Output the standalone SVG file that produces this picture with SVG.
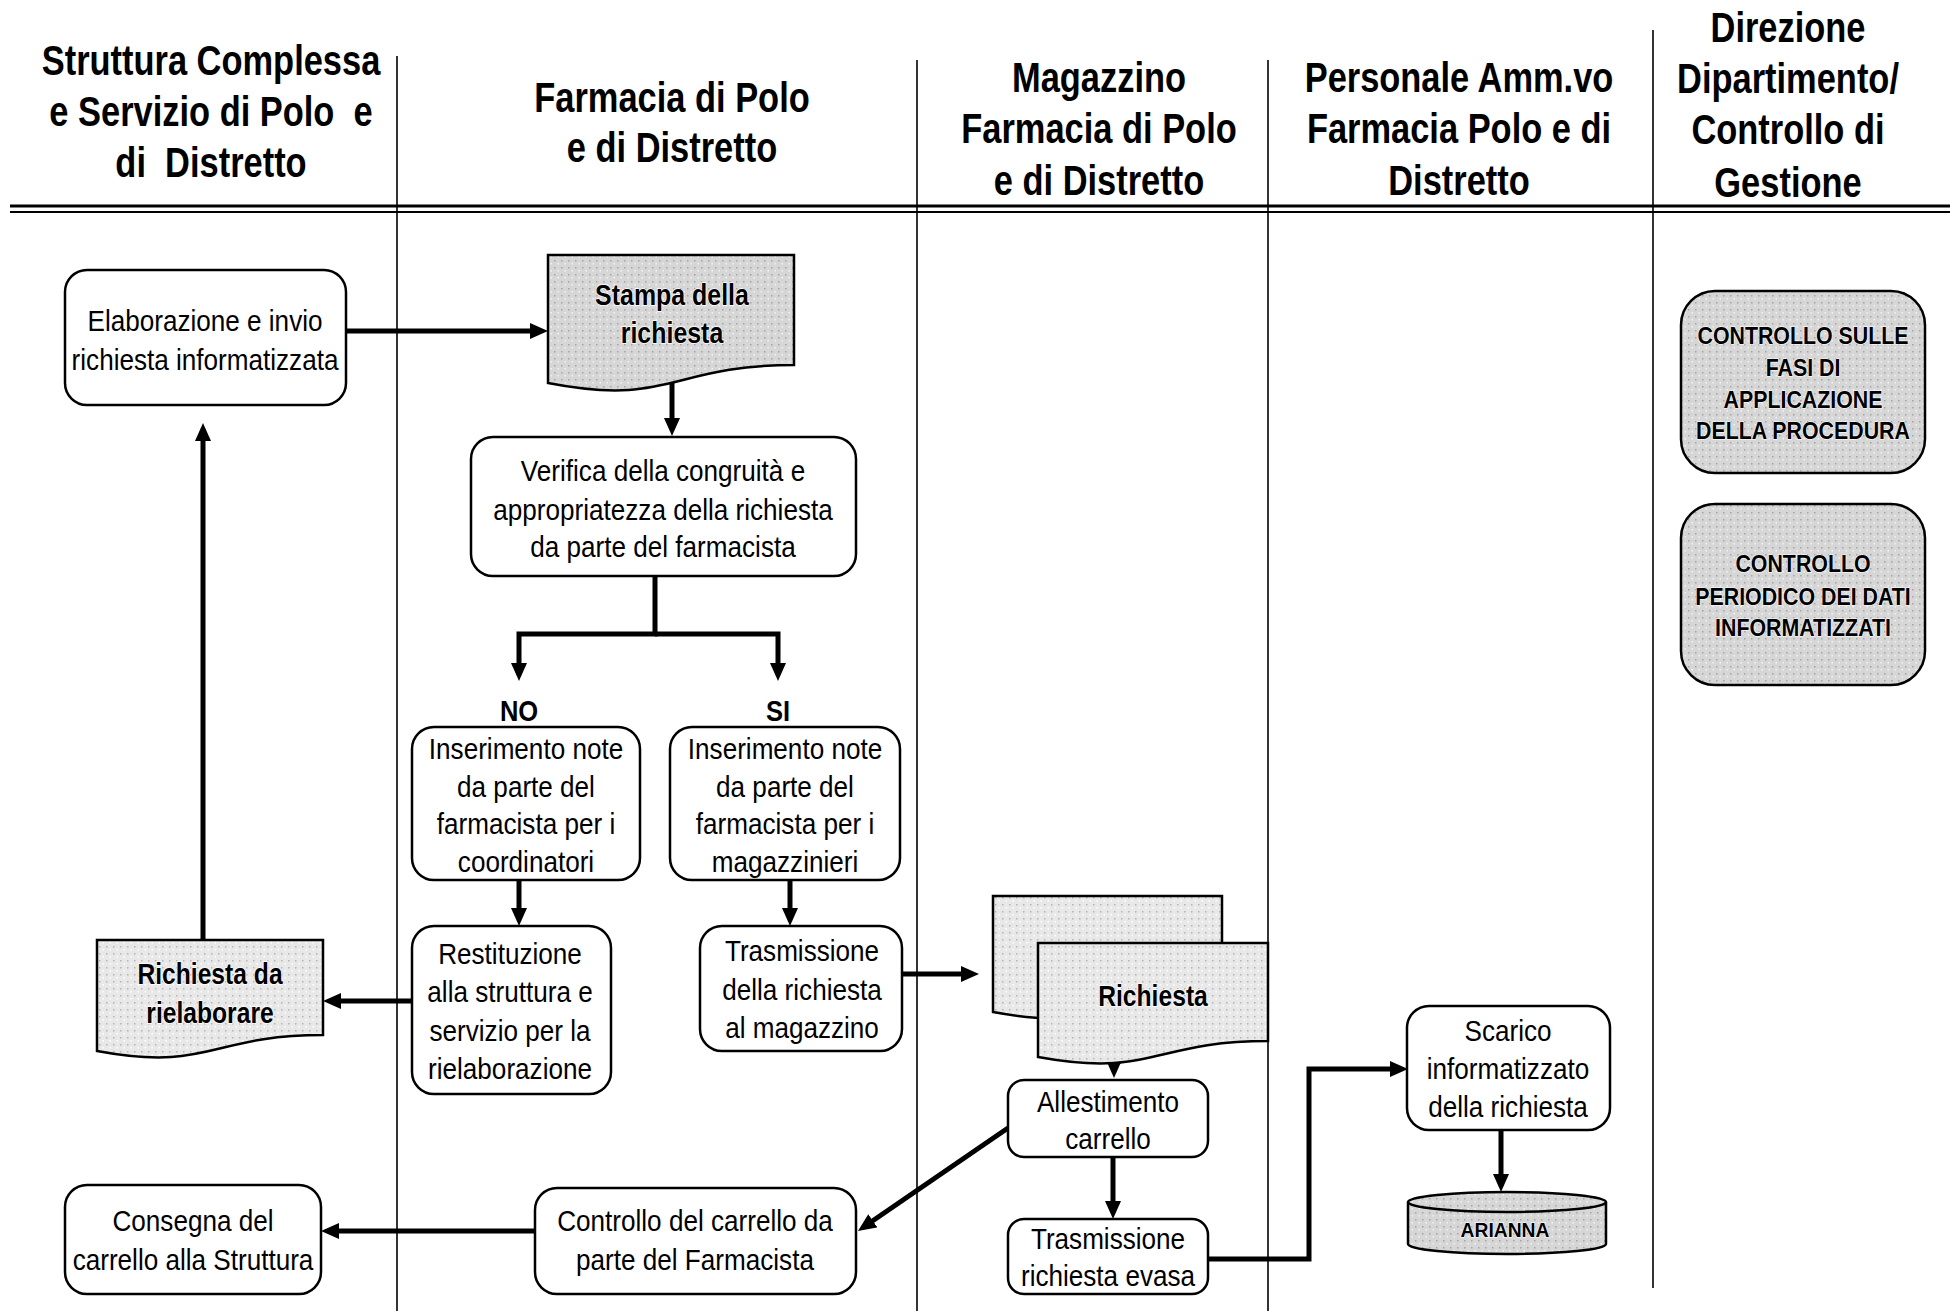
<svg xmlns="http://www.w3.org/2000/svg" width="1950" height="1311" viewBox="0 0 1950 1311">
<style>
.hdr{font-family:"Liberation Sans",Arial,sans-serif;font-weight:bold;font-size:42px;fill:#000;text-anchor:middle;white-space:pre}
.t{font-family:"Liberation Sans",Arial,sans-serif;font-size:30px;fill:#000;text-anchor:middle}
.tb{font-family:"Liberation Sans",Arial,sans-serif;font-weight:bold;font-size:29px;fill:#000;text-anchor:middle;stroke:#fff;stroke-width:1.5px;paint-order:stroke}
.tc{font-family:"Liberation Sans",Arial,sans-serif;font-weight:bold;font-size:24px;fill:#000;text-anchor:middle;stroke:#fff;stroke-width:1.2px;paint-order:stroke}
.box{fill:#fff;stroke:#000;stroke-width:2.5}
.gbox{fill:url(#speck);stroke:#000;stroke-width:2.5}
.lbox{fill:url(#speck2);stroke:#000;stroke-width:2.5}
.lane{stroke:#000;stroke-width:1.6;fill:none}
.con{stroke:#000;stroke-width:5;fill:none}
</style>
<defs>
<pattern id="speck" width="7" height="7" patternUnits="userSpaceOnUse">
<rect width="7" height="7" fill="#d6d6d6"/>
<rect x="1" y="1" width="1.5" height="1.5" fill="#a4a4a4"/>
<rect x="4.5" y="4" width="1.5" height="1.5" fill="#f2f2f2"/>
</pattern>
<pattern id="speck2" width="7" height="7" patternUnits="userSpaceOnUse">
<rect width="7" height="7" fill="#e8e8e8"/>
<rect x="1" y="1" width="1.5" height="1.5" fill="#b4b4b4"/>
<rect x="4.5" y="4" width="1.5" height="1.5" fill="#ffffff"/>
</pattern>
<marker id="ah" viewBox="0 0 18 16" refX="4" refY="8" markerWidth="18" markerHeight="16" markerUnits="userSpaceOnUse" orient="auto">
<path d="M0,0 L18,8 L0,16 z" fill="#000"/>
</marker>
</defs>
<rect width="1950" height="1311" fill="#fff"/>

<g id="lanes">
<line class="lane" x1="397" y1="56" x2="397" y2="1311"/>
<line class="lane" x1="917" y1="60" x2="917" y2="1311"/>
<line class="lane" x1="1268" y1="60" x2="1268" y2="1311"/>
<line class="lane" x1="1653" y1="30" x2="1653" y2="1288"/>
<line x1="10" y1="206" x2="1950" y2="206" stroke="#000" stroke-width="3"/>
<line x1="10" y1="212" x2="1950" y2="212" stroke="#000" stroke-width="2"/>
</g>

<g id="headers">
<text class="hdr" transform="translate(211 0) scale(0.82 1)"><tspan x="0" y="75">Struttura Complessa</tspan><tspan x="0" y="126">e Servizio di Polo  e</tspan><tspan x="0" y="177">di  Distretto</tspan></text>
<text class="hdr" transform="translate(672 0) scale(0.82 1)"><tspan x="0" y="112">Farmacia di Polo</tspan><tspan x="0" y="162">e di Distretto</tspan></text>
<text class="hdr" transform="translate(1099 0) scale(0.82 1)"><tspan x="0" y="92">Magazzino</tspan><tspan x="0" y="143">Farmacia di Polo</tspan><tspan x="0" y="195">e di Distretto</tspan></text>
<text class="hdr" transform="translate(1459 0) scale(0.82 1)"><tspan x="0" y="92">Personale Amm.vo</tspan><tspan x="0" y="143">Farmacia Polo e di</tspan><tspan x="0" y="195">Distretto</tspan></text>
<text class="hdr" transform="translate(1788 0) scale(0.82 1)"><tspan x="0" y="42">Direzione</tspan><tspan x="0" y="93">Dipartimento/</tspan><tspan x="0" y="144">Controllo di</tspan><tspan x="0" y="197">Gestione</tspan></text>
</g>

<g id="connectors">
<line class="con" x1="346" y1="331" x2="534" y2="331" marker-end="url(#ah)"/>
<line class="con" x1="672" y1="383" x2="672" y2="422" marker-end="url(#ah)"/>
<polyline class="con" points="655,576 655,634 519,634 519,667" marker-end="url(#ah)"/>
<polyline class="con" points="655,634 778,634 778,667" marker-end="url(#ah)"/>
<line class="con" x1="519" y1="880" x2="519" y2="912" marker-end="url(#ah)"/>
<line class="con" x1="790" y1="880" x2="790" y2="912" marker-end="url(#ah)"/>
<line class="con" x1="412" y1="1001" x2="337" y2="1001" marker-end="url(#ah)"/>
<line class="con" x1="203" y1="940" x2="203" y2="437" marker-end="url(#ah)"/>
<line class="con" x1="902" y1="974" x2="965" y2="974" marker-end="url(#ah)"/>
<line class="con" x1="1114" y1="1058" x2="1114" y2="1064" marker-end="url(#ah)"/>
<line class="con" x1="1113" y1="1157" x2="1113" y2="1205" marker-end="url(#ah)"/>
<polyline class="con" points="1208,1259 1309,1259 1309,1069 1394,1069" marker-end="url(#ah)"/>
<line class="con" x1="1501" y1="1130" x2="1501" y2="1178" marker-end="url(#ah)"/>
<line class="con" x1="1008" y1="1128" x2="869.5" y2="1223" marker-end="url(#ah)"/>
<line class="con" x1="535" y1="1231" x2="335" y2="1231" marker-end="url(#ah)"/>
</g>

<g id="n-elaborazione">
<rect class="box" x="65" y="270" width="281" height="135" rx="22"/>
<text class="t" transform="translate(205 0) scale(0.87 1)"><tspan x="0" y="331">Elaborazione e invio</tspan><tspan x="0" y="370">richiesta informatizzata</tspan></text>
</g>

<g id="n-stampa">
<path class="gbox" d="M548,255 H794 V365 C671,365 671,407 548,383 Z"/>
<text class="tb" transform="translate(672 0) scale(0.86 1)"><tspan x="0" y="305">Stampa della</tspan><tspan x="0" y="343">richiesta</tspan></text>
</g>

<g id="n-verifica">
<rect class="box" x="471" y="437" width="385" height="139" rx="22"/>
<text class="t" transform="translate(663 0) scale(0.87 1)"><tspan x="0" y="481">Verifica della congruità e</tspan><tspan x="0" y="520">appropriatezza della richiesta</tspan><tspan x="0" y="557">da parte del farmacista</tspan></text>
</g>

<g id="l-no"><text class="tb" transform="translate(519 0) scale(0.88 1)" x="0" y="721" style="stroke:none">NO</text></g>
<g id="l-si"><text class="tb" transform="translate(778 0) scale(0.88 1)" x="0" y="721" style="stroke:none">SI</text></g>

<g id="n-note-coord">
<rect class="box" x="412" y="727" width="228" height="153" rx="22"/>
<text class="t" transform="translate(526 0) scale(0.87 1)"><tspan x="0" y="759">Inserimento note</tspan><tspan x="0" y="797">da parte del</tspan><tspan x="0" y="834">farmacista per i</tspan><tspan x="0" y="872">coordinatori</tspan></text>
</g>

<g id="n-note-magaz">
<rect class="box" x="670" y="727" width="230" height="153" rx="22"/>
<text class="t" transform="translate(785 0) scale(0.87 1)"><tspan x="0" y="759">Inserimento note</tspan><tspan x="0" y="797">da parte del</tspan><tspan x="0" y="834">farmacista per i</tspan><tspan x="0" y="872">magazzinieri</tspan></text>
</g>

<g id="n-restituzione">
<rect class="box" x="412" y="926" width="199" height="168" rx="22"/>
<text class="t" transform="translate(510 0) scale(0.87 1)"><tspan x="0" y="964">Restituzione</tspan><tspan x="0" y="1002">alla struttura e</tspan><tspan x="0" y="1041">servizio per la</tspan><tspan x="0" y="1079">rielaborazione</tspan></text>
</g>

<g id="n-trasmissione">
<rect class="box" x="700" y="926" width="202" height="125" rx="22"/>
<text class="t" transform="translate(802 0) scale(0.87 1)"><tspan x="0" y="961">Trasmissione</tspan><tspan x="0" y="1000">della richiesta</tspan><tspan x="0" y="1038">al magazzino</tspan></text>
</g>

<g id="n-rielaborare">
<path class="lbox" d="M97,940 H323 V1035 C210,1035 210,1072 97,1051 Z"/>
<text class="tb" transform="translate(210 0) scale(0.85 1)"><tspan x="0" y="984">Richiesta da</tspan><tspan x="0" y="1023">rielaborare</tspan></text>
</g>

<g id="n-richiesta">
<path class="lbox" d="M993,896 H1222 V995 C1107,995 1107,1033 993,1012 Z"/>
<path class="lbox" d="M1038,943 H1268 V1041 C1153,1041 1153,1078 1038,1057 Z"/>
<text class="tb" transform="translate(1153 0) scale(0.85 1)" x="0" y="1006">Richiesta</text>
</g>

<g id="n-allestimento">
<rect class="box" x="1008" y="1080" width="200" height="77" rx="16"/>
<text class="t" transform="translate(1108 0) scale(0.87 1)"><tspan x="0" y="1112">Allestimento</tspan><tspan x="0" y="1149">carrello</tspan></text>
</g>

<g id="n-trasm-evasa">
<rect class="box" x="1008" y="1219" width="200" height="75" rx="16"/>
<text class="t" transform="translate(1108 0) scale(0.87 1)"><tspan x="0" y="1249">Trasmissione</tspan><tspan x="0" y="1286">richiesta evasa</tspan></text>
</g>

<g id="n-scarico">
<rect class="box" x="1407" y="1006" width="203" height="124" rx="22"/>
<text class="t" transform="translate(1508 0) scale(0.87 1)"><tspan x="0" y="1041">Scarico</tspan><tspan x="0" y="1079">informatizzato</tspan><tspan x="0" y="1117">della richiesta</tspan></text>
</g>

<g id="n-arianna">
<path class="gbox" d="M1408,1202 A99,10 0 0 1 1606,1202 V1244 A99,10 0 0 1 1408,1244 Z"/>
<path d="M1408,1202 A99,10 0 0 0 1606,1202" fill="none" stroke="#000" stroke-width="2.5"/>
<text class="tc" transform="translate(1505 0) scale(0.92 1)" style="font-size:21px" x="0" y="1237">ARIANNA</text>
</g>

<g id="n-controllo-carrello">
<rect class="box" x="535" y="1188" width="321" height="106" rx="22"/>
<text class="t" transform="translate(695 0) scale(0.87 1)"><tspan x="0" y="1231">Controllo del carrello da</tspan><tspan x="0" y="1270">parte del Farmacista</tspan></text>
</g>

<g id="n-consegna">
<rect class="box" x="65" y="1185" width="256" height="109" rx="22"/>
<text class="t" transform="translate(193 0) scale(0.87 1)"><tspan x="0" y="1231">Consegna del</tspan><tspan x="0" y="1270">carrello alla Struttura</tspan></text>
</g>

<g id="n-controllo-fasi">
<rect class="gbox" x="1681" y="291" width="244" height="182" rx="34"/>
<text class="tc" transform="translate(1803 0) scale(0.89 1)"><tspan x="0" y="344">CONTROLLO SULLE</tspan><tspan x="0" y="376">FASI DI</tspan><tspan x="0" y="408">APPLICAZIONE</tspan><tspan x="0" y="439">DELLA PROCEDURA</tspan></text>
</g>

<g id="n-controllo-periodico">
<rect class="gbox" x="1681" y="504" width="244" height="181" rx="34"/>
<text class="tc" transform="translate(1803 0) scale(0.89 1)"><tspan x="0" y="572">CONTROLLO</tspan><tspan x="0" y="605">PERIODICO DEI DATI</tspan><tspan x="0" y="636">INFORMATIZZATI</tspan></text>
</g>
</svg>
